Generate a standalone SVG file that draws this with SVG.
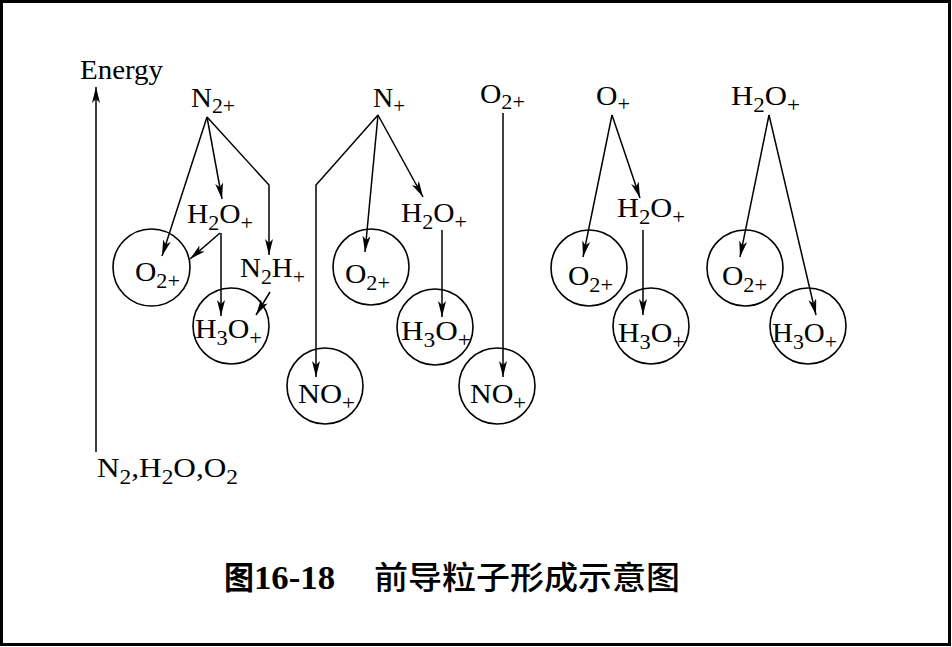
<svg xmlns="http://www.w3.org/2000/svg" width="952" height="647" viewBox="0 0 952 647">
<style>
.t{font-family:"Liberation Serif","Times New Roman",serif;font-size:28px;fill:#000}
.s{font-size:21px}
.ln{fill:none;stroke:#000;stroke-width:1.5}
.cir{fill:none;stroke:#000;stroke-width:1.6}
.cap{font-family:"Noto Sans CJK SC","Noto Sans",sans-serif;font-size:32px;fill:#000}
.num{font-family:"Liberation Serif","Times New Roman",serif;font-weight:bold;font-size:34px;fill:#000}
</style>
<defs>
<marker id="ah" viewBox="0 0 16 8" refX="16" refY="4" markerWidth="16" markerHeight="8" markerUnits="userSpaceOnUse" orient="auto">
<path d="M0,0 L16,4 L0,8 L4,4 z" fill="#000"/>
</marker>
</defs>
<rect x="1.5" y="1.5" width="948" height="643" fill="#fff" stroke="#000" stroke-width="3"/>

<g id="connectors">
<line class="ln" x1="96" y1="452" x2="96" y2="87" marker-end="url(#ah)"/>
<line class="ln" x1="207" y1="117" x2="162" y2="256" marker-end="url(#ah)"/>
<line class="ln" x1="207" y1="117" x2="222" y2="199" marker-end="url(#ah)"/>
<polyline class="ln" points="207,117 269,185 269,255" marker-end="url(#ah)"/>
<line class="ln" x1="220" y1="233" x2="190" y2="259" marker-end="url(#ah)"/>
<line class="ln" x1="221" y1="233" x2="221" y2="316" marker-end="url(#ah)"/>
<line class="ln" x1="270" y1="292" x2="256" y2="315" marker-end="url(#ah)"/>
<polyline class="ln" points="378,115 316,185 316,377" marker-end="url(#ah)"/>
<line class="ln" x1="378" y1="115" x2="365" y2="252" marker-end="url(#ah)"/>
<line class="ln" x1="378" y1="115" x2="423" y2="197" marker-end="url(#ah)"/>
<line class="ln" x1="442" y1="230" x2="442" y2="317" marker-end="url(#ah)"/>
<line class="ln" x1="503" y1="113" x2="503" y2="377" marker-end="url(#ah)"/>
<line class="ln" x1="612" y1="115" x2="583" y2="257" marker-end="url(#ah)"/>
<line class="ln" x1="612" y1="115" x2="640" y2="198" marker-end="url(#ah)"/>
<line class="ln" x1="643" y1="230" x2="643" y2="315" marker-end="url(#ah)"/>
<line class="ln" x1="769" y1="115" x2="740" y2="257" marker-end="url(#ah)"/>
<line class="ln" x1="769" y1="115" x2="816" y2="315" marker-end="url(#ah)"/>
</g>

<g id="axis-label"><text class="t" x="80" y="79" textLength="83" lengthAdjust="spacingAndGlyphs">Energy</text></g>
<g id="base-label"><text class="t" x="97" y="477" textLength="141" lengthAdjust="spacingAndGlyphs">N<tspan class="s" dy="7">2</tspan><tspan dy="-7">,H</tspan><tspan class="s" dy="7">2</tspan><tspan dy="-7">O,O</tspan><tspan class="s" dy="7">2</tspan></text></g>

<g id="n2plus"><text class="t" x="191" y="107" textLength="44" lengthAdjust="spacingAndGlyphs">N<tspan class="s" dy="6">2+</tspan></text></g>
<g id="h2oplus-1"><text class="t" x="187" y="223" textLength="66" lengthAdjust="spacingAndGlyphs">H<tspan class="s" dy="7">2</tspan><tspan dy="-7">O</tspan><tspan class="s" dy="7">+</tspan></text></g>
<g id="n2hplus"><text class="t" x="240" y="277" textLength="65" lengthAdjust="spacingAndGlyphs">N<tspan class="s" dy="7">2</tspan><tspan dy="-7">H</tspan><tspan class="s" dy="7">+</tspan></text></g>
<g id="o2plus-c1"><circle class="cir" cx="151.5" cy="267.5" r="38.5"/><text class="t" x="135" y="281" textLength="45" lengthAdjust="spacingAndGlyphs">O<tspan class="s" dy="7">2+</tspan></text></g>
<g id="h3oplus-c1"><circle class="cir" cx="231" cy="326" r="38"/><text class="t" x="195" y="338" textLength="67" lengthAdjust="spacingAndGlyphs">H<tspan class="s" dy="7">3</tspan><tspan dy="-7">O</tspan><tspan class="s" dy="7">+</tspan></text></g>

<g id="nplus"><text class="t" x="373" y="107" textLength="32" lengthAdjust="spacingAndGlyphs">N<tspan class="s" dy="6">+</tspan></text></g>
<g id="h2oplus-2"><text class="t" x="401" y="222" textLength="66" lengthAdjust="spacingAndGlyphs">H<tspan class="s" dy="7">2</tspan><tspan dy="-7">O</tspan><tspan class="s" dy="7">+</tspan></text></g>
<g id="o2plus-c2"><circle class="cir" cx="371" cy="267" r="38"/><text class="t" x="345" y="283" textLength="45" lengthAdjust="spacingAndGlyphs">O<tspan class="s" dy="7">2+</tspan></text></g>
<g id="h3oplus-c2"><circle class="cir" cx="435" cy="327" r="38"/><text class="t" x="401" y="340" textLength="70" lengthAdjust="spacingAndGlyphs">H<tspan class="s" dy="7">3</tspan><tspan dy="-7">O</tspan><tspan class="s" dy="7">+</tspan></text></g>
<g id="noplus-c1"><circle class="cir" cx="325" cy="386" r="38"/><text class="t" x="298" y="403" textLength="57" lengthAdjust="spacingAndGlyphs">NO<tspan class="s" dy="7">+</tspan></text></g>

<g id="o2plus-top"><text class="t" x="480" y="103" textLength="45" lengthAdjust="spacingAndGlyphs">O<tspan class="s" dy="6">2+</tspan></text></g>
<g id="noplus-c2"><circle class="cir" cx="497" cy="386" r="38"/><text class="t" x="470" y="403" textLength="56" lengthAdjust="spacingAndGlyphs">NO<tspan class="s" dy="7">+</tspan></text></g>

<g id="oplus"><text class="t" x="596" y="105" textLength="34" lengthAdjust="spacingAndGlyphs">O<tspan class="s" dy="6">+</tspan></text></g>
<g id="h2oplus-3"><text class="t" x="617" y="217" textLength="68" lengthAdjust="spacingAndGlyphs">H<tspan class="s" dy="7">2</tspan><tspan dy="-7">O</tspan><tspan class="s" dy="7">+</tspan></text></g>
<g id="o2plus-c3"><circle class="cir" cx="589" cy="268" r="38"/><text class="t" x="568" y="285" textLength="45" lengthAdjust="spacingAndGlyphs">O<tspan class="s" dy="7">2+</tspan></text></g>
<g id="h3oplus-c3"><circle class="cir" cx="651" cy="326" r="38"/><text class="t" x="618" y="342" textLength="67" lengthAdjust="spacingAndGlyphs">H<tspan class="s" dy="7">3</tspan><tspan dy="-7">O</tspan><tspan class="s" dy="7">+</tspan></text></g>

<g id="h2oplus-top"><text class="t" x="731" y="105" textLength="69" lengthAdjust="spacingAndGlyphs">H<tspan class="s" dy="7">2</tspan><tspan dy="-7">O</tspan><tspan class="s" dy="7">+</tspan></text></g>
<g id="o2plus-c4"><circle class="cir" cx="745" cy="268" r="38"/><text class="t" x="722" y="285" textLength="45" lengthAdjust="spacingAndGlyphs">O<tspan class="s" dy="7">2+</tspan></text></g>
<g id="h3oplus-c4"><circle class="cir" cx="808" cy="326" r="38"/><text class="t" x="772" y="342" textLength="65" lengthAdjust="spacingAndGlyphs">H<tspan class="s" dy="7">3</tspan><tspan dy="-7">O</tspan><tspan class="s" dy="7">+</tspan></text></g>

<g id="caption">
<text class="cap" x="224" y="589" font-weight="bold" textLength="30" lengthAdjust="spacingAndGlyphs">图</text>
<text class="num" x="254" y="589" textLength="81" lengthAdjust="spacingAndGlyphs">16-18</text>
<text class="cap" x="374" y="589" font-weight="500" textLength="306" lengthAdjust="spacingAndGlyphs">前导粒子形成示意图</text>
</g>
</svg>
